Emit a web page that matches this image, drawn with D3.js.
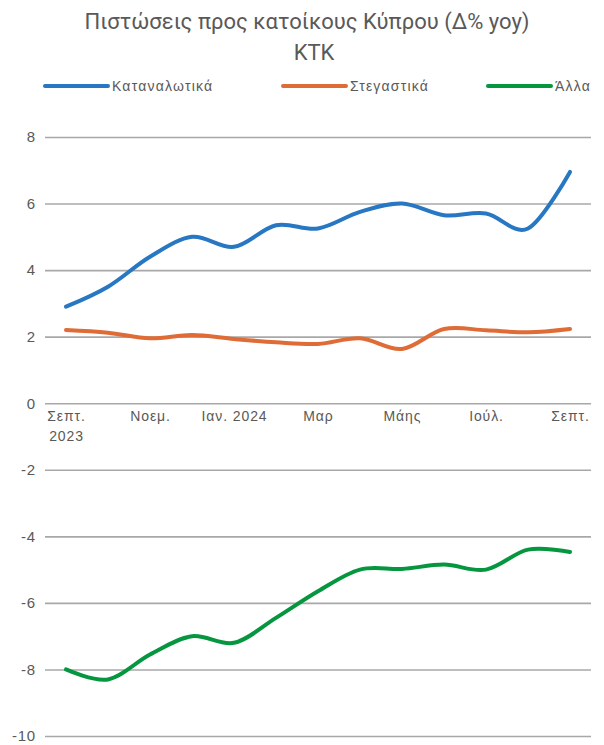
<!DOCTYPE html>
<html>
<head>
<meta charset="utf-8">
<script src="https://cdn.jsdelivr.net/npm/d3@7"></script>
<style>
  body { margin: 0; background: #fff; }
  svg text { fill: #595959; }
</style>
</head>
<body>
<div id="chart"></div>
<script>
const WIDTH = 604
const HEIGHT = 745

const months = ['Σεπτ. 2023', 'Οκτ.', 'Νοεμ.', 'Δεκ.', 'Ιαν. 2024', 'Φεβ.', 'Μαρ',
  'Απρ.', 'Μάης', 'Ιούν.', 'Ιούλ.', 'Αύγ.', 'Σεπτ.']
const tickMonths = ['Σεπτ. 2023', 'Νοεμ.', 'Ιαν. 2024', 'Μαρ', 'Μάης', 'Ιούλ.', 'Σεπτ.']
const yTicks = [-10, -8, -6, -4, -2, 0, 2, 4, 6, 8]

const consumer = [2.9, 3.5, 4.4, 5.0, 4.7, 5.35, 5.25, 5.75, 6.0, 5.65, 5.7, 5.25, 6.95]
const housing = [2.2, 2.12, 1.95, 2.05, 1.93, 1.83, 1.78, 1.95, 1.63, 2.23, 2.19, 2.13, 2.23]
const other = [-8.0, -8.3, -7.55, -7.0, -7.2, -6.45, -5.65, -5.0, -4.98, -4.85, -5.0, -4.4, -4.47]

const seriesNames = ['Καταναλωτικά', 'Στεγαστικά', 'Άλλα']
const colors = ['#2777c2', '#df6c36', '#05963f']

const chart = { left: 45, right: 591, top: 137, bottom: 736 }

const svg = d3.select('#chart')
  .append('svg')
  .attr('width', WIDTH)
  .attr('height', HEIGHT)
  .style('font-family', "'Liberation Sans', Arial, sans-serif")

// title
svg.append('text')
  .attr('x', 307)
  .attr('y', 29)
  .attr('text-anchor', 'middle')
  .style('font-family', "Roboto, sans-serif")
  .style('font-size', '22px')
  .text('Πιστώσεις προς κατοίκους Κύπρου (Δ% yoy)')

svg.append('text')
  .attr('x', 314)
  .attr('y', 60)
  .attr('text-anchor', 'middle')
  .style('font-family', "Roboto, sans-serif")
  .style('font-size', '22px')
  .text('ΚΤΚ')

const x = d3.scalePoint()
  .domain(months)
  .range([chart.left, chart.right])
  .padding(0.5)

const y = d3.scaleLinear()
  .domain([-10, 8])
  .range([chart.bottom, chart.top])

// gridlines + y labels
const yAxis = d3.axisLeft(y)
  .tickValues(yTicks)
  .tickSize(-(chart.right - chart.left))
  .tickPadding(9)
  .tickFormat(d => String(d))

const gy = svg.append('g')
  .attr('transform', 'translate(' + chart.left + ',0)')
  .call(yAxis)
gy.select('.domain').remove()
gy.selectAll('.tick line')
  .attr('stroke', '#a8a8a8')
  .attr('stroke-width', 1.6)
gy.selectAll('.tick text')
  .style('font-size', '15px')
  .style('letter-spacing', '0.8px')
  .style('fill', '#595959')

// x labels sit below the zero line
const xAxis = d3.axisBottom(x)
  .tickValues(tickMonths)
  .tickSize(0)
  .tickPadding(8)

const gx = svg.append('g')
  .attr('transform', 'translate(0,' + y(0) + ')')
  .call(xAxis)
gx.select('.domain').remove()
gx.selectAll('.tick text')
  .style('font-size', '14px')
  .style('letter-spacing', '0.9px')
  .style('fill', '#595959')
  .each(function (d) {
    if (d === 'Σεπτ. 2023') {
      const t = d3.select(this).text('')
      t.append('tspan').attr('x', 0).attr('dy', '0.71em').text('Σεπτ.')
      t.append('tspan').attr('x', 0).attr('dy', '1.45em').text('2023')
      t.attr('dy', null)
    }
  })

const line = d3.line()
  .x((d, i) => x(months[i]))
  .y(d => y(d))
  .curve(d3.curveCatmullRom.alpha(0))

;[consumer, housing, other].forEach((s, k) => {
  svg.append('path')
    .datum(s)
    .attr('fill', 'none')
    .attr('stroke', colors[k])
    .attr('stroke-width', 4)
    .attr('stroke-linecap', 'round')
    .attr('d', line)
})

// legend
const legendX = [45, 283, 488]
const legend = svg.append('g')
seriesNames.forEach((n, k) => {
  legend.append('line')
    .attr('x1', legendX[k])
    .attr('x2', legendX[k] + 63)
    .attr('y1', 86)
    .attr('y2', 86)
    .attr('stroke', colors[k])
    .attr('stroke-width', 4)
    .attr('stroke-linecap', 'round')
  legend.append('text')
    .attr('x', legendX[k] + 67)
    .attr('y', 91)
    .style('font-size', '14px')
    .style('letter-spacing', '1.2px')
    .text(n)
})
</script>
</body>
</html>
